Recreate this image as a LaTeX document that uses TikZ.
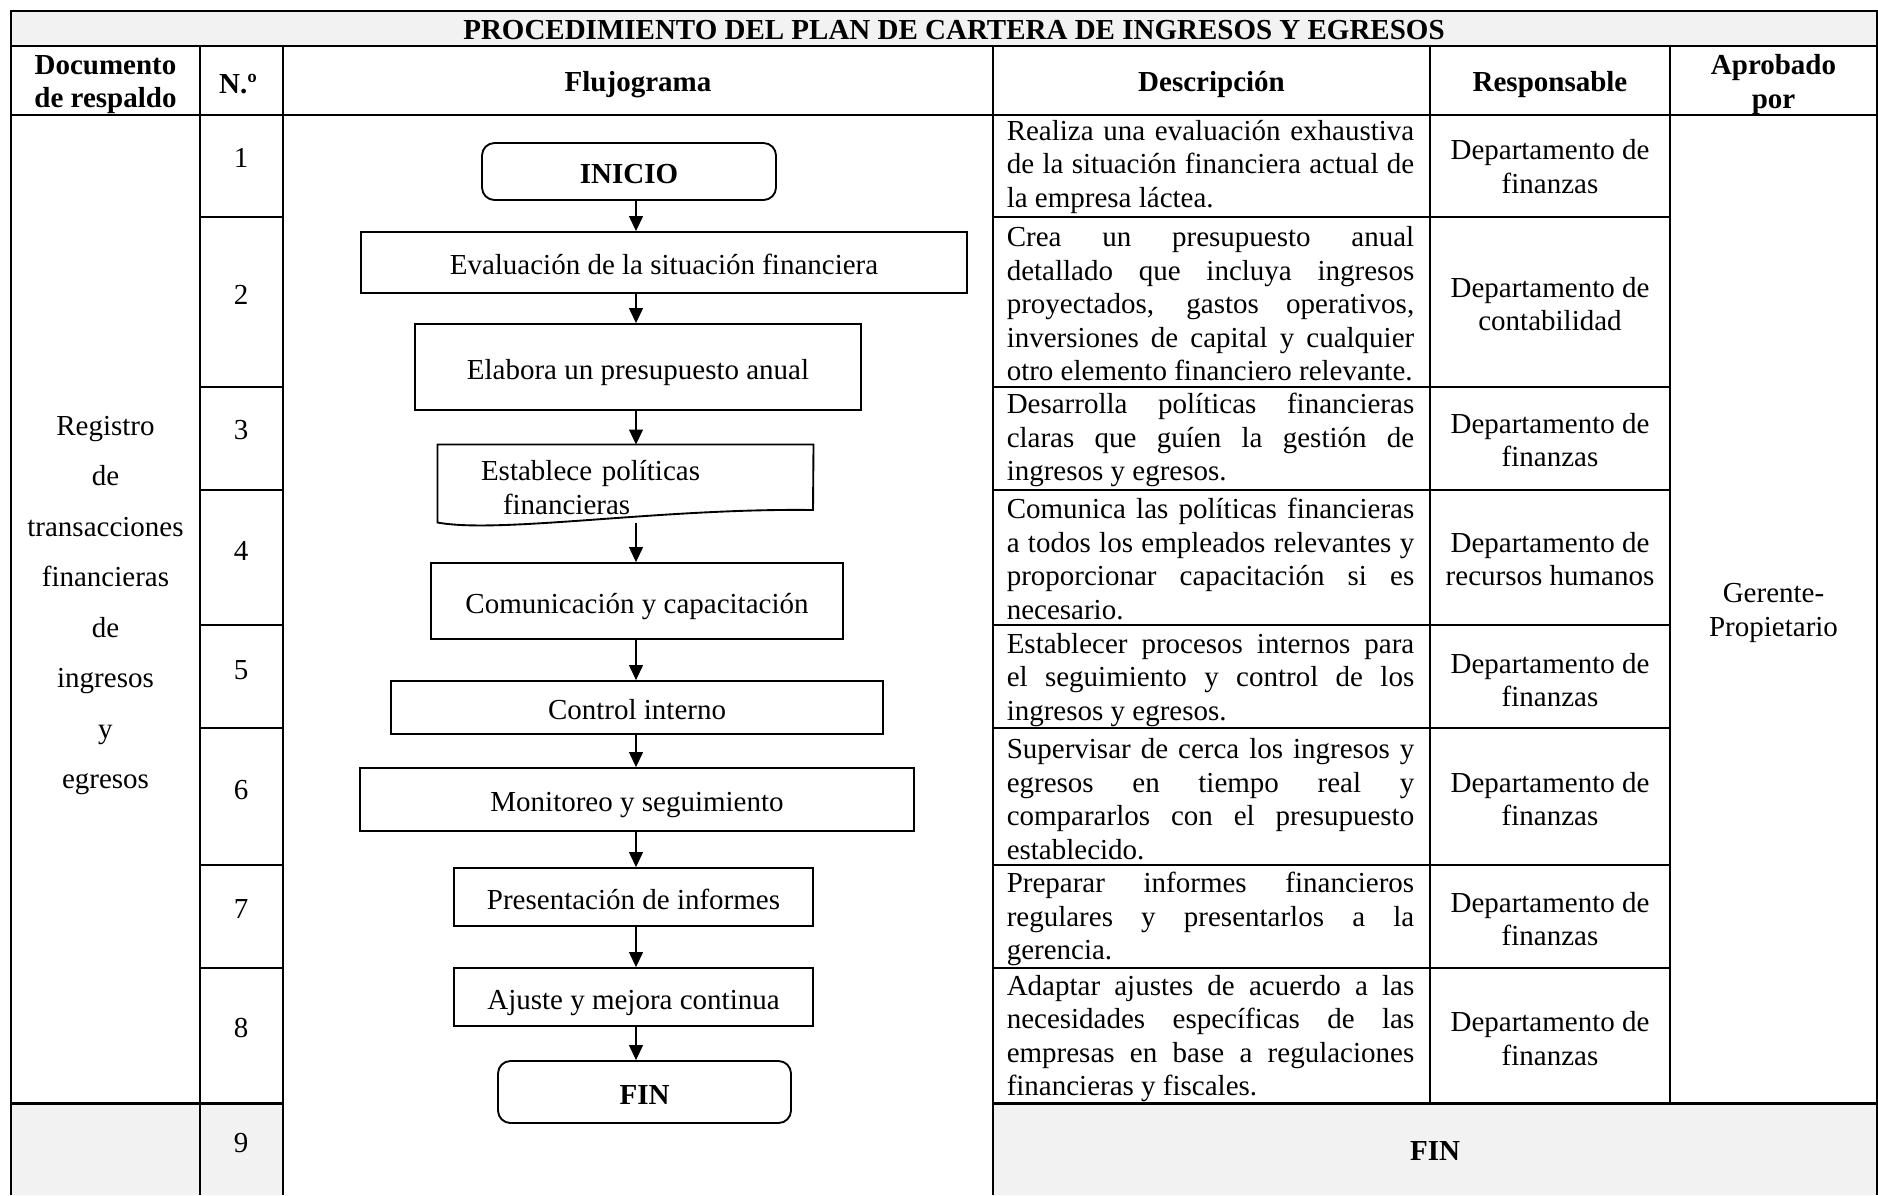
\documentclass[tikz,border=0pt]{standalone}
\usepackage{fontspec}
\setmainfont{Liberation Serif}
\usetikzlibrary{arrows.meta}
\definecolor{celda}{HTML}{F2F2F2}
\tolerance=10000
\hbadness=10000
\hyphenpenalty=10000

\begin{document}
\begin{tikzpicture}[x=0.4pt, y=-0.4pt, font=\fontsize{11.6pt}{13.4pt}\selectfont,
		caja/.style={draw, line width=0.75pt, inner sep=0pt, text height=11pt, text depth=1.4pt},
		fin/.style={caja, rounded corners=5pt, font=\fontsize{11.6pt}{13.4pt}\selectfont\bfseries},
		linea/.style={line width=0.8pt},
		flecha/.style={-{Triangle[length=6pt,width=5.6pt]}, line width=0.5pt},
		desc/.style={text width=163pt, align=justify, inner sep=0pt},
		resp/.style={align=center, inner sep=0pt},
		titulo/.style={align=center, font=\fontsize{11.6pt}{13.4pt}\selectfont\bfseries}]
	\useasboundingbox (0,0) rectangle (1878,1195);
	\fill[celda] (11,11) rectangle (1877,46);
	\fill[celda] (11,1103) rectangle (283,1195);
	\fill[celda] (993,1103) rectangle (1877,1195);
	\draw[linea] (11,1195) -- (11,11) -- (1877,11) -- (1877,1195);
	\draw[linea] (11,46) -- (1877,46);
	\draw[linea] (11,115) -- (1877,115);
	\foreach \x in {200,283,993} \draw[linea] (\x,46) -- (\x,1195);
	\foreach \x in {1430,1670} \draw[linea] (\x,46) -- (\x,1103);
	\foreach \y in {217,387,490,625,728,865,968} {
		\draw[linea] (200,\y) -- (283,\y);
		\draw[linea] (993,\y) -- (1670,\y);
	}
	\draw[line width=1.2pt] (11,1103) -- (283,1103);
	\draw[line width=1.2pt] (993,1103) -- (1877,1103);

	\node (t0) [titulo] at (954,30) {PROCEDIMIENTO DEL PLAN DE CARTERA DE INGRESOS Y EGRESOS};
	\node (h1) [titulo] at (105.5,84.5) {Documento\\de respaldo};
	\node (h2) [titulo] at (238,84.5) {N.º};
	\node (h3) [titulo] at (638,84.5) {Flujograma};
	\node (h4) [titulo] at (1211.5,84.5) {Descripción};
	\node (h5) [titulo] at (1550,84.5) {Responsable};
	\node (h6) [titulo] at (1773.5,84.5) {Aprobado\\por};

	\node (doc) [align=center, font=\fontsize{11.6pt}{20.2pt}\selectfont] at (105.5,605.5) {Registro\\de\\transacciones\\financieras\\de\\ingresos\\y\\egresos};
	\foreach \n/\y in {1/158,2/295,3/430,4/551,5/670,6/790,7/909,8/1028,9/1143}
		\node (k\n) at (241,\y) {\n};

	\node (n0) [fin, minimum width=117.6pt, minimum height=22.8pt] at (629,171.5) {INICIO};
	\node (n1) [caja, minimum width=242.4pt, minimum height=24.4pt] at (664,262.5) {Evaluación de la situación financiera};
	\node (n2) [caja, minimum width=178.4pt, minimum height=34.4pt] at (638,367) {Elabora un presupuesto anual};
	\node (n3) [align=left, text width=115.6pt, inner xsep=17.2pt, inner ysep=0pt, minimum height=30.8pt] at (625.5,483.5) {\rule{0pt}{11.4pt}Establece políticas\\\hspace*{8.8pt}financieras};
	\draw[line width=0.75pt] (n3.north west) -- (n3.north east) -- (813,510) .. controls (660,508) and (500,534) .. (n3.south west) -- cycle;
	\node (n4) [caja, minimum width=164.8pt, minimum height=30.4pt] at (637,601) {Comunicación y capacitación};
	\node (n5) [caja, minimum width=196.8pt, minimum height=21.2pt] at (637,707.5) {Control interno};
	\node (n6) [caja, minimum width=221.6pt, minimum height=25.2pt] at (637,799.5) {Monitoreo y seguimiento};
	\node (n7) [caja, minimum width=143.6pt, minimum height=23.2pt] at (633.5,897) {Presentación de informes};
	\node (n8) [caja, minimum width=143.6pt, minimum height=23.2pt] at (633.5,997) {Ajuste y mejora continua};
	\node (n9) [fin, minimum width=117.2pt, minimum height=24.8pt] at (644.5,1092) {FIN};
	\coordinate (eje) at (636,0);
	\foreach \a/\b in {n0/n1,n1/n2,n2/n3,n3/n4,n4/n5,n5/n6,n6/n7,n7/n8,n8/n9}
		\draw[flecha] (\a.south -| eje) -- (\b.north -| eje);

	\node (d1) [desc] at (1210.5,166.5) {Realiza una evaluación exhaustiva\linebreak de la situación financiera actual de\linebreak la empresa láctea.};
	\node (d2) [desc] at (1210.5,304) {Crea un presupuesto anual\linebreak detallado que incluya ingresos\linebreak proyectados, gastos operativos,\linebreak inversiones de capital y cualquier\linebreak otro elemento financiero relevante.};
	\node (d3) [desc] at (1210.5,440) {Desarrolla políticas financieras\linebreak claras que guíen la gestión de\linebreak ingresos y egresos.};
	\node (d4) [desc] at (1210.5,559) {Comunica las políticas financieras\linebreak a todos los empleados relevantes y\linebreak proporcionar capacitación si es\linebreak necesario.};
	\node (d5) [desc] at (1210.5,680) {Establecer procesos internos para\linebreak el seguimiento y control de los\linebreak ingresos y egresos.};
	\node (d6) [desc] at (1210.5,799) {Supervisar de cerca los ingresos y\linebreak egresos en tiempo real y\linebreak compararlos con el presupuesto\linebreak establecido.};
	\node (d7) [desc] at (1210.5,919) {Preparar informes financieros\linebreak regulares y presentarlos a la\linebreak gerencia.};
	\node (d8) [desc] at (1210.5,1038.5) {Adaptar ajustes de acuerdo a las\linebreak necesidades específicas de las\linebreak empresas en base a regulaciones\linebreak financieras y fiscales.};

	\foreach \i/\y/\t in {1/166.5/finanzas,2/304/contabilidad,3/440/finanzas,4/559/recursos humanos,5/680/finanzas,6/799/finanzas,7/919/finanzas,8/1038.5/finanzas}
		\node (r\i) [resp] at (1550,\y) {Departamento de\\\t};
	\node (ap) [resp] at (1773.5,613) {Gerente-\\Propietario};
	\node (fin) [titulo] at (1435,1151) {FIN};
\end{tikzpicture}
\end{document}
